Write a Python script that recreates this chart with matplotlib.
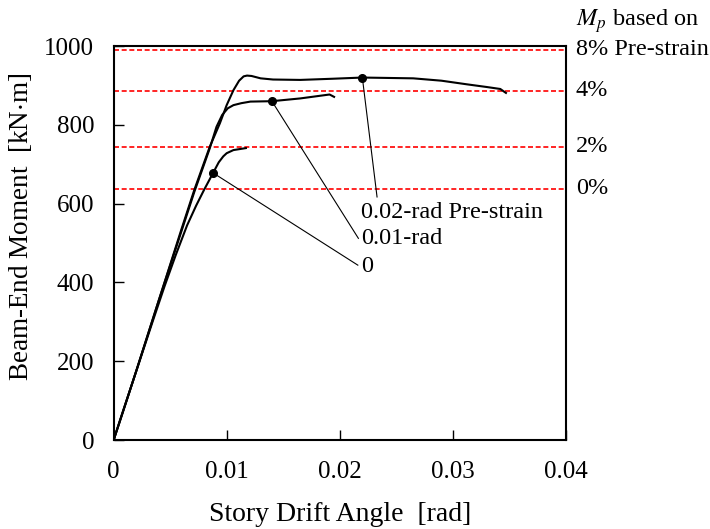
import matplotlib
matplotlib.use("Agg")
import matplotlib.pyplot as plt
import matplotlib.transforms as mtransforms

# --- data ---
x_02 = [0, 0.0020, 0.0040, 0.0060, 0.00714, 0.0085, 0.0094, 0.0100, 0.0106, 0.0111, 0.0115, 0.0118,
        0.0122, 0.0130, 0.0141, 0.0165, 0.0194, 0.0220, 0.0265, 0.0290, 0.0312, 0.0330, 0.0342, 0.0347]
y_02 = [0, 175, 355, 535, 635, 744, 804, 850, 888, 912, 923, 925,
        924, 918, 915, 914, 917, 920, 918, 912, 903, 896, 891, 881]

x_01 = [0, 0.0020, 0.0040, 0.0060, 0.00714, 0.0085, 0.0091, 0.0096, 0.0101, 0.0106, 0.0113, 0.0121,
        0.0140, 0.0165, 0.0191, 0.0195]
y_01 = [0, 175, 355, 530, 630, 740, 795, 825, 842, 850, 855, 859,
        860, 867, 877, 871]

x_00 = [0, 0.0020, 0.0035, 0.0045, 0.0055, 0.0065, 0.0073, 0.0080, 0.0088, 0.0093, 0.0097, 0.0100,
        0.0106, 0.0117]
y_00 = [0, 175, 305, 390, 470, 545, 595, 635, 678, 705, 720, 728,
        736, 741]

markers_x = [0.0088, 0.0140, 0.0220]
markers_y = [678, 860, 920]

mp_values = [990, 886, 744, 638]
mp_labels = ["8% Pre-strain", "4%", "2%", "0%"]

label_texts = ["0.02-rad Pre-strain", "0.01-rad", "0"]
label_x = [0.0219, 0.0219, 0.0219]
label_y = [578, 512, 441]
leader_end_x = [0.0233, 0.02165, 0.0216]
leader_end_y = [617, 512, 444]
leader_start_x = [0.0220, 0.0140, 0.0088]
leader_start_y = [920, 860, 678]

xticks = [0, 0.01, 0.02, 0.03, 0.04]
xticklabels = ["0", "0.01", "0.02", "0.03", "0.04"]
yticks = [0, 200, 400, 600, 800, 1000]

plt.rcParams['font.family'] = ['Liberation Serif', 'DejaVu Serif']
plt.rcParams['mathtext.fontset'] = 'stix'

fig = plt.figure(figsize=(7.10, 5.29), dpi=100)
ax = fig.add_axes([0.160, 0.168, 0.637, 0.745])

for v in mp_values:
    ax.axhline(v, color='#ff0000', lw=1.2, dashes=(3, 1.6), zorder=1)

for xs, ys in [(x_02, y_02), (x_01, y_01), (x_00, y_00)]:
    ax.plot(xs, ys, color='black', lw=1.5, zorder=3, solid_joinstyle='round')

ax.plot(markers_x, markers_y, 'o', color='black', ms=5.5, zorder=4)

for sx, sy, ex, ey in zip(leader_start_x, leader_start_y, leader_end_x, leader_end_y):
    ax.plot([sx, ex], [sy, ey], color='black', lw=0.8, zorder=2)

for t, tx, ty in zip(label_texts, label_x, label_y):
    ax.text(tx, ty, t, fontsize=17.5, ha='left', va='center')

trans = mtransforms.blended_transform_factory(ax.transAxes, ax.transData)
for v, lab in zip(mp_values, mp_labels):
    ax.text(1.022, v, lab, fontsize=17.5, ha='left', va='center', transform=trans, clip_on=False)
ax.text(1.022, 1063, "$M_p$ based on", fontsize=17.5, ha='left', va='center',
        transform=trans, clip_on=False)

ax.set_xlim(0, 0.04)
ax.set_ylim(0, 1000)
ax.set_xticks(xticks)
ax.set_xticklabels(xticklabels)
ax.set_yticks(yticks)
ax.tick_params(direction='in', length=7, width=1, labelsize=18)
ax.tick_params(axis='x', pad=15)
ax.tick_params(axis='y', pad=14)
for s in ax.spines.values():
    s.set_linewidth(1.5)

ax.set_xlabel("Story Drift Angle  [rad]", fontsize=20, labelpad=14)
ax.set_ylabel("Beam-End Moment  [kN$\\cdot$m]", fontsize=19.5, labelpad=6)
ax.yaxis.set_label_coords(-0.175, 0.54)

fig.savefig("out.png", dpi=100)
